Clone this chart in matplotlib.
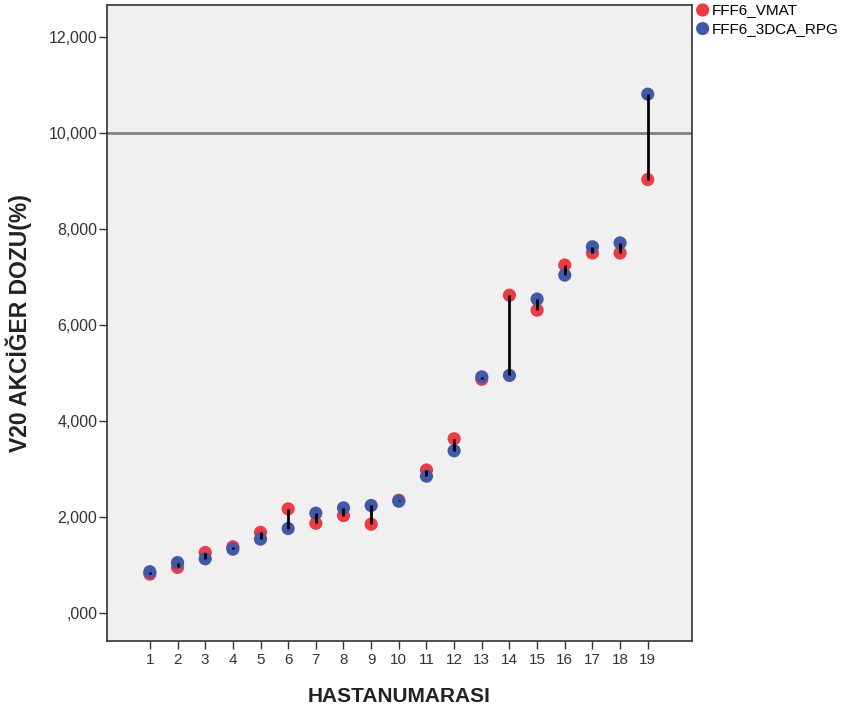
import numpy as np
import matplotlib.pyplot as plt
from matplotlib.ticker import FuncFormatter

# values (V20 lung dose, %)
patients = list(range(1, 20))
vmat = [0.81, 0.95, 1.26, 1.38, 1.68, 2.17, 1.87, 2.03, 1.85, 2.35,
        2.98, 3.63, 4.87, 6.62, 6.31, 7.25, 7.50, 7.50, 9.03]
dca_rpg = [0.86, 1.05, 1.13, 1.33, 1.54, 1.76, 2.08, 2.19, 2.24, 2.33,
           2.85, 3.38, 4.92, 4.95, 6.54, 7.04, 7.63, 7.71, 10.81]
ref_level = 10.0
y_ticks = [0, 2, 4, 6, 8, 10, 12]

red = "#ee3a43"
blue = "#3f5aa8"

plt.rcParams['font.family'] = ['Liberation Sans', 'DejaVu Sans']

fig = plt.figure(figsize=(8.44, 7.16), dpi=100)
ax = fig.add_axes([107/844, 1 - 641/716, (692-107)/844, (641-5)/716])
ax.set_facecolor("#f0f0f0")

ax.axhline(ref_level, color="#808080", lw=2, zorder=1)

ax.scatter(patients, vmat, s=90, color=red, edgecolors='none', zorder=2, label="FFF6_VMAT")
ax.scatter(patients, dca_rpg, s=90, color=blue, edgecolors='none', zorder=2.5, label="FFF6_3DCA_RPG")
# hi-low lines between the two plans
ax.vlines(patients, vmat, dca_rpg, color='black', lw=2, zorder=3)

ax.set_xlim(-0.55, 20.6)
ax.set_ylim(-0.583, 12.667)
ax.set_xticks(patients)
ax.set_yticks(y_ticks)


def fmt(v, pos):
    s = f"{v:.3f}".replace('.', ',')
    if s.startswith('0,'):
        s = s[1:]
    return s


ax.yaxis.set_major_formatter(FuncFormatter(fmt))
ax.tick_params(axis='y', labelsize=11.5, length=6, width=1, pad=1, colors='#333333', labelcolor='#333333')
ax.tick_params(axis='x', labelsize=11, length=6, width=1, pad=3, colors='#333333', labelcolor='#333333')
for sp in ax.spines.values():
    sp.set_color('#333333')
    sp.set_linewidth(1.2)

ax.set_xlabel("HASTANUMARASI", fontsize=15, fontweight='bold', color='#222222', labelpad=14)
ax.set_ylabel("V20 AKCİĞER DOZU(%)", fontsize=16.5, fontweight='bold', color='#222222', labelpad=12)

fig.legend(loc='upper left', bbox_to_anchor=(695/844, 1 - 3/716), frameon=False,
           fontsize=11, handletextpad=0.1, borderaxespad=0, borderpad=0,
           labelspacing=0.3, markerscale=1.0, handlelength=1.0)

fig.savefig("out.png", dpi=100)
